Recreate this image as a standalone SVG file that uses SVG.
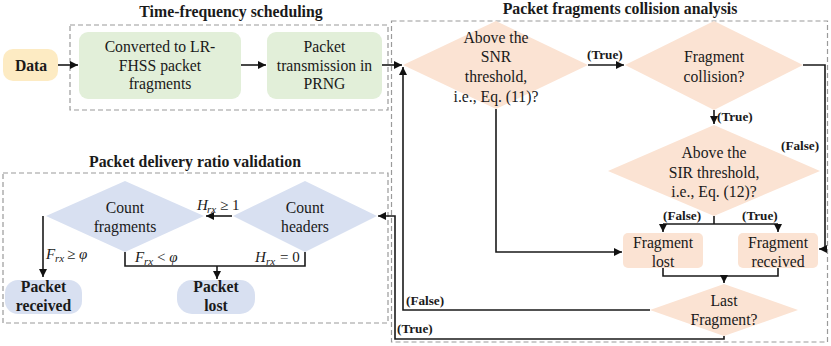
<svg xmlns="http://www.w3.org/2000/svg" width="831" height="346" viewBox="0 0 831 346" font-family="'Liberation Serif', serif">
<defs>
<marker id="ah" viewBox="0 0 10 10" refX="10" refY="5" markerWidth="5" markerHeight="5" orient="auto"><path d="M0,0 L10,5 L0,10 z" fill="#111"/></marker>
<style>
text{fill:#1a1a1a}
.t{font-size:15.7px;text-anchor:middle}
.b{font-weight:bold}
.title{font-size:15.8px;font-weight:bold;text-anchor:middle}
.lbl{font-size:13.2px;font-weight:bold}
.m{font-size:15px;font-style:italic}
.r{font-size:15px}
.sub{font-size:11px;font-style:italic}
.frame{fill:none;stroke:#9a9a9a;stroke-width:1.2;stroke-dasharray:5,3}
.c{fill:none;stroke:#1a1a1a;stroke-width:1.6}
.ca{fill:none;stroke:#1a1a1a;stroke-width:1.6;marker-end:url(#ah)}
.dia{fill:#FBE3D3}
.blu{fill:#D8E0F1}
.grn{fill:#E2EFD9}
.yel{fill:#FDEBC3}
</style>
</defs>

<g id="frames">
<text class="title" x="231" y="17">Time-frequency scheduling</text>
<rect class="frame" x="70" y="25" width="318" height="85"/>
<text class="title" x="620" y="14">Packet fragments collision analysis</text>
<rect class="frame" x="391.5" y="21" width="436" height="321"/>
<text class="title" x="195" y="167">Packet delivery ratio validation</text>
<rect class="frame" x="3" y="173" width="385" height="150"/>
</g>

<g id="data">
<rect class="yel" x="3" y="49" width="55" height="32" rx="10"/>
<text class="t b" x="31" y="70.5">Data</text>
</g>
<g id="convert">
<rect class="grn" x="79" y="32" width="162" height="67" rx="9"/>
<text class="t" x="160" y="52">Converted to LR-</text>
<text class="t" x="160" y="71">FHSS packet</text>
<text class="t" x="160" y="89">fragments</text>
</g>
<g id="transmit">
<rect class="grn" x="267" y="32" width="115" height="67" rx="9"/>
<text class="t" x="324.5" y="52">Packet</text>
<text class="t" x="324.5" y="71">transmission in</text>
<text class="t" x="324.5" y="89">PRNG</text>
</g>

<g id="snr">
<polygon class="dia" points="496,21 588,65 496,109 403,65"/>
<text class="t" x="496" y="43">Above the</text>
<text class="t" x="496" y="62">SNR</text>
<text class="t" x="496" y="82">threshold,</text>
<text class="t" x="496" y="102">i.e., Eq. (11)?</text>
</g>
<g id="collision">
<polygon class="dia" points="714,21 803,65 714,110 625,65"/>
<text class="t" x="714" y="62">Fragment</text>
<text class="t" x="714" y="82">collision?</text>
</g>
<g id="sir">
<polygon class="dia" points="714,125 820,171 714,216 608,171"/>
<text class="t" x="714" y="158">Above the</text>
<text class="t" x="714" y="178">SIR threshold,</text>
<text class="t" x="714" y="197">i.e., Eq. (12)?</text>
</g>
<g id="fraglost">
<rect class="dia" x="623" y="233" width="80" height="35" rx="5"/>
<text class="t" x="663" y="248">Fragment</text>
<text class="t" x="663" y="267">lost</text>
</g>
<g id="fragrecv">
<rect class="dia" x="738" y="233" width="80" height="35" rx="5"/>
<text class="t" x="778" y="248">Fragment</text>
<text class="t" x="778" y="267">received</text>
</g>
<g id="last">
<polygon class="dia" points="724,284 798,310 724,336 650,310"/>
<text class="t" x="724" y="306">Last</text>
<text class="t" x="724" y="325">Fragment?</text>
</g>

<g id="countheaders">
<polygon class="blu" points="305,181 377,216 305,252 233,216"/>
<text class="t" x="305" y="213">Count</text>
<text class="t" x="305" y="232">headers</text>
</g>
<g id="countfragments">
<polygon class="blu" points="125,181 204,216 125,252 46,216"/>
<text class="t" x="125" y="213">Count</text>
<text class="t" x="125" y="232">fragments</text>
</g>
<g id="pktreceived">
<rect class="blu" x="5" y="280" width="77" height="34" rx="13"/>
<text class="t b" x="43.5" y="292">Packet</text>
<text class="t b" x="43.5" y="311">received</text>
</g>
<g id="pktlost">
<rect class="blu" x="177" y="280" width="78" height="34" rx="15"/>
<text class="t b" x="216" y="292">Packet</text>
<text class="t b" x="216" y="311">lost</text>
</g>

<g id="connectors">
<path class="ca" d="M58,65 H78"/>
<path class="ca" d="M241,65 H266"/>
<path class="ca" d="M382,65 H402"/>
<path class="ca" d="M588,65 H624"/>
<path class="ca" d="M714,110 V124"/>
<path class="ca" d="M803,65 H825 V249 H819"/>
<path class="c" d="M714,216 V224"/>
<path class="c" d="M663,224 H778"/>
<path class="ca" d="M663,224 V232"/>
<path class="ca" d="M778,224 V232"/>
<path class="ca" d="M496,109 V252 H622"/>
<path class="c" d="M663,268 V276 H778 V268"/>
<path class="ca" d="M724,276 V283"/>
<path class="ca" d="M650,310 H403 V67"/>
<path class="ca" d="M724,336 V339 H395 V216 H378"/>
<path class="ca" d="M232,216 H206"/>
<path class="ca" d="M43,216 V277"/>
<path class="c" d="M125,252 V266 H305 V252"/>
<path class="ca" d="M217,266 V279"/>

<text class="lbl" x="587" y="59">(True)</text>
<text class="lbl" x="717" y="121">(True)</text>
<text class="lbl" x="781" y="150">(False)</text>
<text class="lbl" x="663" y="220">(False)</text>
<text class="lbl" x="742" y="220">(True)</text>
<text class="lbl" x="406" y="305">(False)</text>
<text class="lbl" x="397" y="333">(True)</text>

<text class="m" x="197" y="210">H</text><text class="sub" x="207" y="213">rx</text><text class="r" x="220" y="210">≥ 1</text>
<text class="m" x="46" y="259">F</text><text class="sub" x="55" y="262">rx</text><text class="r" x="67" y="259">≥ <tspan class="m">φ</tspan></text>
<text class="m" x="135" y="262">F</text><text class="sub" x="144" y="265">rx</text><text class="r" x="157" y="262">&lt; <tspan class="m">φ</tspan></text>
<text class="m" x="255" y="262">H</text><text class="sub" x="266" y="265">rx</text><text class="r" x="280" y="262">= 0</text>
</g>
</svg>
